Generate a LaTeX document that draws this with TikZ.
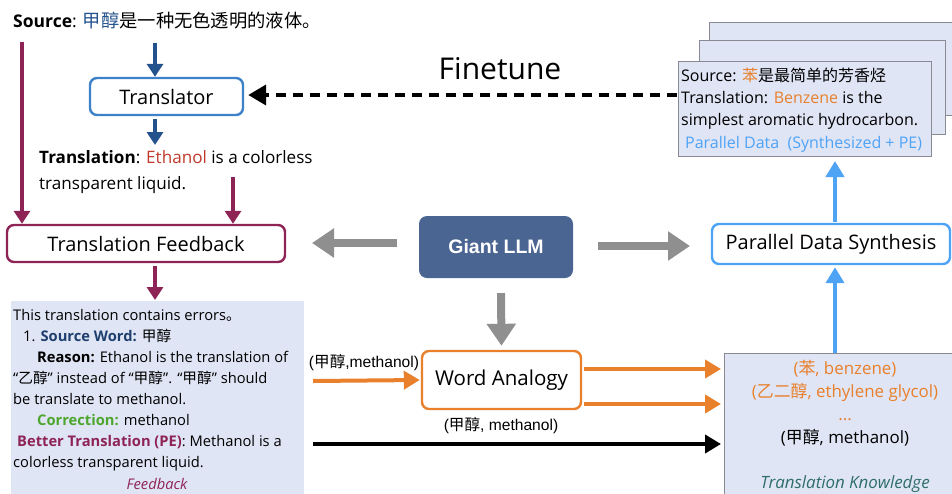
\documentclass[tikz,border=0pt]{standalone}
\usepackage{fontspec}
\setmainfont{Open Sans}
\newfontfamily\cjk{Noto Sans CJK SC}
\newfontfamily\helv{Liberation Sans}
\usetikzlibrary{arrows.meta,calc}
\newcommand{\zh}[1]{{\cjk #1}}
\definecolor{pur}{HTML}{8E2456}
\definecolor{dblue}{HTML}{24528C}
\definecolor{trblue}{HTML}{3D82C8}
\definecolor{ered}{HTML}{C0392B}
\definecolor{orng}{HTML}{E8802C}
\definecolor{lblue}{HTML}{4FA3F5}
\definecolor{llmfill}{HTML}{4A6591}
\definecolor{garrow}{HTML}{8F8F8F}
\definecolor{panel}{HTML}{E0E5F5}
\definecolor{panelb}{HTML}{8A8A95}
\definecolor{swblue}{HTML}{1E3F6E}
\definecolor{corr}{HTML}{4DA62E}
\definecolor{teal}{HTML}{2E6D6A}
\begin{document}
\begin{tikzpicture}[x=1pt,y=-1pt,
  fs/.style={font=\fontsize{#1}{#1}\selectfont},
  rbox/.style={draw, line width=2.4pt, rounded corners=7pt, fill=white, inner sep=0pt},
  pbox/.style={draw=panelb, line width=1pt, fill=panel, inner sep=0pt},
  parr/.style={draw=pur, line width=4pt, -{Triangle[width=16,length=13]}},
  barr/.style={draw=dblue, line width=4pt, -{Triangle[width=16,length=13]}},
  oarr/.style={draw=orng, line width=4pt, -{Triangle[width=18,length=16]}},
  karr/.style={draw=black, line width=4pt, -{Triangle[width=18,length=16]}},
  larr/.style={draw=lblue, line width=4pt, -{Triangle[width=18,length=16]}},
  garr/.style={draw=garrow, line width=8pt, -{Triangle[width=28,length=22]}},
  tl/.style={anchor=base west, inner sep=0pt},
  tc/.style={anchor=base, inner sep=0pt}
]
\useasboundingbox (0,0) rectangle (952,493);

% ---------- left column ----------
\node[tl, fs=17.5] (src) at (13,27) {\textbf{Source}: \textcolor{dblue}{\zh{\fontsize{18.3}{18}\selectfont 甲醇}}\zh{\fontsize{18.3}{18}\selectfont 是一种无色透明的液体。}};
\node[rbox, draw=trblue, minimum width=153, minimum height=37, fs=20] (tr) at (166.5,96.5) {Translator};
\node[tl, fs=17.1] (trans1) at (39,163) {\textbf{Translation}: \textcolor{ered}{Ethanol} is a colorless};
\node[tl, fs=17.1] (trans2) at (39,189) {transparent liquid.};
\node[rbox, draw=pur, minimum width=278, minimum height=37, fs=20] (fb) at (146,243.5) {Translation Feedback};

\coordinate (cx) at (155,0);
\coordinate (lx) at (22,0);
\coordinate (rx) at (233,0);
\coordinate (srcb) at (155,43);
\coordinate (trb) at (155,119);
\coordinate (lstart) at (22,42);
\coordinate (rstart) at (233,177);
\draw[barr] (srcb) -- (cx |- tr.north);
\draw[barr] (trb) -- (155,145);
\draw[parr] (lstart) -- (lx |- fb.north);
\draw[parr] (rstart) -- (rx |- fb.north);

% feedback panel
\node[pbox, draw=none, minimum width=293, minimum height=195, anchor=north west] (fbp) at (10,300) {};
\draw[parr] (cx |- fb.south) ++(0,3) -- (cx |- fbp.north);
\begin{scope}[fs=14.7]
\node[tl] (f1) at (13,320) {This translation contains errors\zh{。}};
\node[tl] (f2) at (23,341) {1. \textbf{\textcolor{swblue}{Source Word:}} \zh{甲醇}};
\node[tl] (f3) at (37,362) {\textbf{Reason:} Ethanol is the translation of};
\node[tl] (f4) at (13,383) {“\zh{乙醇}” instead of “\zh{甲醇}”. “\zh{甲醇}” should};
\node[tl] (f5) at (13,404) {be translate to methanol.};
\node[tl] (f6) at (37,425) {\textbf{\textcolor{corr}{Correction:}} methanol};
\node[tl] (f7) at (17,446) {\textbf{\textcolor{pur}{Better Translation (PE)}}: Methanol is a};
\node[tl] (f8) at (13,467) {colorless transparent liquid.};
\node[tc, text=pur] (f9) at (157,489) {\itshape Feedback};
\end{scope}

% ---------- center ----------
\node[draw=none, fill=llmfill, rounded corners=8pt, minimum width=154, minimum height=62, inner sep=0pt, text=white, fs=19.5] (llm) at (496,247) {\helv\bfseries Giant LLM};
\node[rbox, draw=orng, minimum width=159, minimum height=58, fs=20.5] (wa) at (501.5,380) {Word Analogy};

\coordinate (gl1) at (397,243);
\coordinate (gl2) at (312,243);
\coordinate (gr1) at (598,246);
\coordinate (gr2) at (690,246);
\draw[garr] (gl1) -- (gl2);
\draw[garr] (gr1) -- (gr2);
\draw[garr] ($(llm.south)+(5,15)$) -- ($(wa.north)+(0,-4)$);

% ---------- right ----------
\node[pbox, minimum width=243, minimum height=93, anchor=north west] (pd3) at (709,22) {};
\node[pbox, minimum width=246, minimum height=94, anchor=north west] (pd2) at (699,40) {};
\node[pbox, minimum width=253, minimum height=95, anchor=north west] (pd1) at (678,61) {};
\begin{scope}[fs=16]
\node[tl] (p1) at (681,81) {Source: \textcolor{orng}{\zh{苯}}\zh{是最简单的芳香烃}};
\node[tl] (p2) at (681,103) {Translation: \textcolor{orng}{Benzene} is the};
\node[tl] (p3) at (681,125) {simplest aromatic hydrocarbon.};
\node[tl, text=lblue] (p4) at (685,148) {Parallel Data\ \ (Synthesized + PE)};
\end{scope}

\node[draw=lblue, line width=2.4pt, rounded corners=7pt, fill=white, inner sep=0pt, minimum width=238, minimum height=40, fs=20] (pds) at (831,244) {Parallel Data Synthesis};

\node[pbox, minimum width=229, minimum height=142, anchor=north west] (tk) at (724,353) {};
\begin{scope}[fs=16.9]
\node[tc, text=orng] (k1) at (845,374) {(\zh{苯}, benzene)};
\node[tc, text=orng] (k2) at (845,397) {(\zh{乙二醇}, ethylene glycol)};
\node[tc, text=orng] (k3) at (845,420) {...};
\node[tc] (k4) at (845,443) {(\zh{甲醇}, methanol)};
\node[tc, text=teal] (k5) at (845,488) {\itshape Translation Knowledge};
\end{scope}

\coordinate (tkx) at (835,0);
\draw[larr] (tkx |- tk.north) -- ($(tkx |- pds.south)+(0,2)$);
\draw[larr] ($(tkx |- pds.north)+(0,-1)$) -- ($(tkx |- pd1.south)+(0,4)$);

% finetune
\coordinate (ftstart) at (677,95);
\draw[line width=4pt, dash pattern=on 10pt off 7pt, -{Triangle[width=20,length=18]}] (ftstart) -- ($(tr.east |- ftstart)+(4,0)$);
\node[tc, fs=30] (ft) at (500,79) {Finetune};

% word analogy arrows
\coordinate (oa) at (313,381);
\draw[oarr] (oa) -- ($(wa.west)+(-1,0)$);
\node[tc, fs=15.6] (l1) at (364,367) {\helv(\zh{甲醇},methanol)};
\draw[oarr] ($(wa.east)+(2,-11)$) -- ($(tk.west |- wa.east)+(-3,-11)$);
\draw[oarr] ($(wa.east)+(2,24)$) -- ($(tk.west |- wa.east)+(-3,24)$);
\coordinate (ka) at (313,444);
\draw[karr] (ka) -- ($(tk.west |- ka)+(-3,0)$);
\node[tc, fs=15.6] (l2) at (501,430) {\helv(\zh{甲醇}, methanol)};
\end{tikzpicture}
\end{document}
